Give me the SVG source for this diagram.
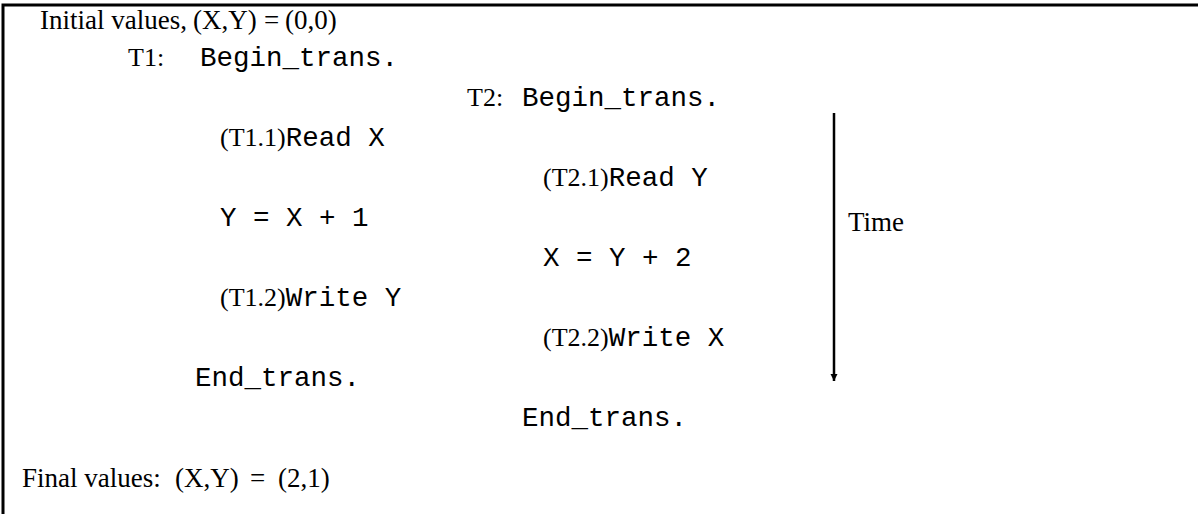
<svg xmlns="http://www.w3.org/2000/svg" width="1198" height="514" viewBox="0 0 1198 514">
  <style>
    .rm { font-family: "Liberation Serif", "Times New Roman", serif; font-size: 26px; fill: #000; }
    .rmL { font-family: "Liberation Serif", "Times New Roman", serif; font-size: 27px; fill: #000; }
    .tt { font-family: "Liberation Mono", "Courier New", monospace; font-size: 27.5px; fill: #000; }
    .frame { stroke: #000; stroke-width: 3; fill: none; }
    .axis { stroke: #000; stroke-width: 2.5; fill: none; }
  </style>
  <defs>
    <marker id="head" viewBox="0 0 10 10" refX="10" refY="5" markerWidth="3" markerHeight="4" markerUnits="strokeWidth" orient="auto">
      <path d="M0,0 L10,5 L0,10 z" fill="#000"/>
    </marker>
  </defs>

  <!-- frame: top rule and left rule -->
  <g id="frame">
    <path class="frame" d="M3,514 V5 H1198"/>
  </g>

  <g id="initial">
    <text class="rmL" y="29"><tspan x="40">Initial values,</tspan><tspan x="193">(X,Y)</tspan><tspan x="264">=</tspan><tspan x="285">(0,0)</tspan></text>
  </g>

  <!-- transaction T1 -->
  <g id="t1">
    <text x="128" y="66"><tspan class="rm">T1:</tspan><tspan class="tt" x="200">Begin_trans.</tspan></text>
    <text x="220" y="146"><tspan class="rm">(T1.1)</tspan><tspan class="tt">Read X</tspan></text>
    <text class="tt" x="220" y="226">Y = X + 1</text>
    <text x="220" y="306"><tspan class="rm">(T1.2)</tspan><tspan class="tt">Write Y</tspan></text>
    <text class="tt" x="195" y="386">End_trans.</text>
  </g>

  <!-- transaction T2 -->
  <g id="t2">
    <text x="467" y="106"><tspan class="rm">T2:</tspan><tspan class="tt" x="522">Begin_trans.</tspan></text>
    <text x="543" y="186"><tspan class="rm">(T2.1)</tspan><tspan class="tt">Read Y</tspan></text>
    <text class="tt" x="543" y="266">X = Y + 2</text>
    <text x="543" y="346"><tspan class="rm">(T2.2)</tspan><tspan class="tt">Write X</tspan></text>
    <text class="tt" x="522" y="426">End_trans.</text>
  </g>

  <!-- time axis -->
  <g id="connectors">
    <line class="axis" x1="834" y1="113" x2="834" y2="381" marker-end="url(#head)"/>
  </g>
  <g id="time-label">
    <text class="rmL" x="848" y="231">Time</text>
  </g>

  <g id="final">
    <text class="rmL" y="487"><tspan x="22">Final values:</tspan><tspan x="175">(X,Y)</tspan><tspan x="250">=</tspan><tspan x="278">(2,1)</tspan></text>
  </g>
</svg>
